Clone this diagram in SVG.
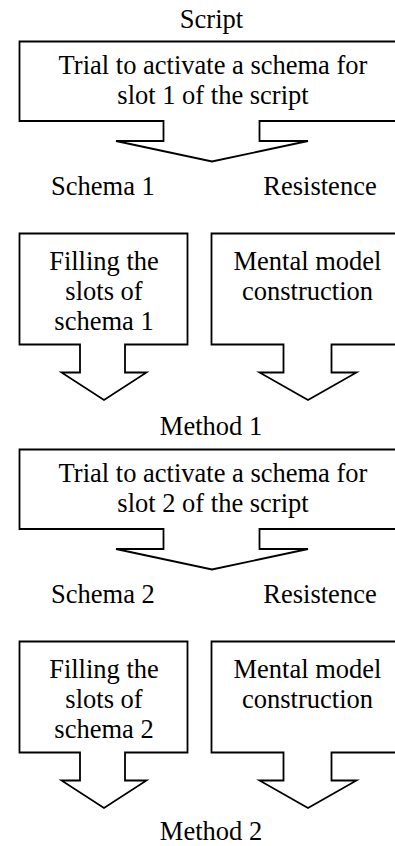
<svg xmlns="http://www.w3.org/2000/svg" width="395" height="846" viewBox="0 0 395 846">
<style>
.s{fill:#fff;stroke:#000;stroke-width:1.8;stroke-linejoin:miter}
.t{font-family:"Liberation Serif","DejaVu Serif",serif;font-size:26.5px;fill:#000;text-anchor:middle}
</style>
<rect width="395" height="846" fill="#fff"/>
<g class="t">
<g id="label-script"><text x="211.5" y="28">Script</text></g>
<g id="callout1">
<path class="s" d="M397,41.5 H19.5 V121 H163.5 V141 H116 L212,161.5 L308,141 H259.5 V121 H397"/>
<text x="213" y="74">Trial to activate a schema for</text>
<text x="213" y="104">slot 1 of the script</text>
</g>
<g id="label-schema1"><text x="103" y="195">Schema 1</text></g>
<g id="label-resist1"><text x="320" y="195">Resistence</text></g>
<g id="fill1">
<path class="s" d="M19.5,233.5 H187.5 V344.5 H125 V372.5 H146.5 L104,400 L61.5,372.5 H80 V344.5 H19.5 Z"/>
<text x="104" y="269.5">Filling the</text>
<text x="104" y="299.5">slots of</text>
<text x="104" y="329.5">schema 1</text>
</g>
<g id="mental1">
<path class="s" d="M397,233.5 H211.5 V344.5 H283.5 V372.5 H259.5 L308,400 L356.5,372.5 H331.5 V344.5 H397"/>
<text x="307.5" y="269.5">Mental model</text>
<text x="307.5" y="299.5">construction</text>
</g>
<g id="label-method1"><text x="211" y="435">Method 1</text></g>
<g id="callout2">
<path class="s" d="M397,449.5 H19.5 V529 H163.5 V549 H116 L212,569.5 L308,549 H259.5 V529 H397"/>
<text x="213" y="482">Trial to activate a schema for</text>
<text x="213" y="512">slot 2 of the script</text>
</g>
<g id="label-schema2"><text x="103" y="603">Schema 2</text></g>
<g id="label-resist2"><text x="320" y="603">Resistence</text></g>
<g id="fill2">
<path class="s" d="M19.5,641.5 H187.5 V752.5 H125 V780.5 H146.5 L104,808 L61.5,780.5 H80 V752.5 H19.5 Z"/>
<text x="104" y="677.5">Filling the</text>
<text x="104" y="707.5">slots of</text>
<text x="104" y="737.5">schema 2</text>
</g>
<g id="mental2">
<path class="s" d="M397,641.5 H211.5 V752.5 H283.5 V780.5 H259.5 L308,808 L356.5,780.5 H331.5 V752.5 H397"/>
<text x="307.5" y="677.5">Mental model</text>
<text x="307.5" y="707.5">construction</text>
</g>
<g id="label-method2"><text x="211" y="840">Method 2</text></g>
</g>
<g id="connectors"></g>
</svg>
